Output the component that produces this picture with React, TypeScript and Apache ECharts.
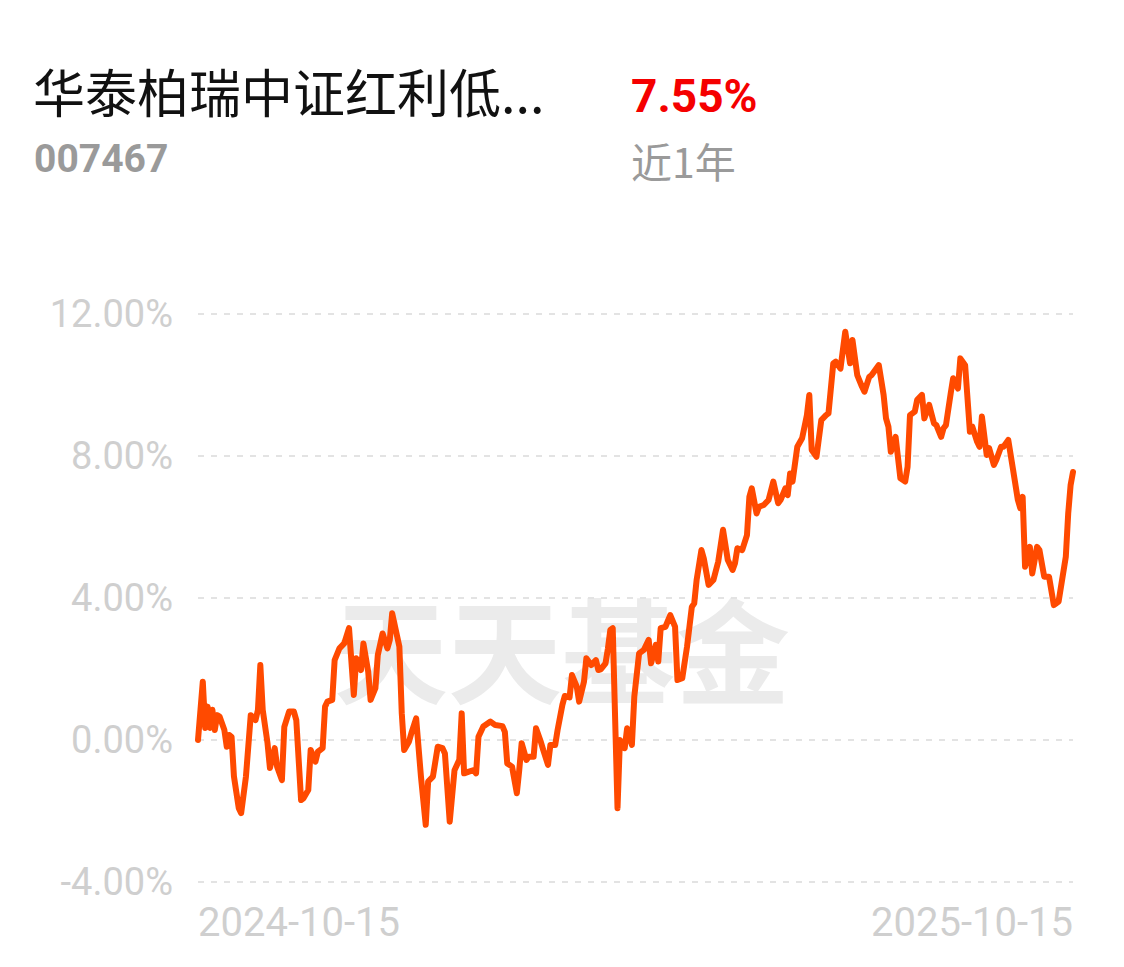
import React, { useEffect, useRef } from "react";
import * as echarts from "echarts";

const fundName = "华泰柏瑞中证红利低...";
const fundCode = "007467";
const periodReturn = "7.55%";
const periodLabel = "近1年";
const watermark = "天天基金";
const startDate = "2024-10-15";
const endDate = "2025-10-15";
const yTicks = [-4, 0, 4, 8, 12];

// day offsets from startDate
const tradeDays = [
  0, 2, 3, 4, 5, 6, 7, 8, 9, 11,
  12, 13, 14, 15, 17, 18, 20, 22, 24, 25,
  26, 27, 29, 30, 32, 33, 35, 36, 38, 40,
  41, 43, 44, 46, 47, 49, 50, 52, 53, 54,
  56, 57, 59, 61, 63, 65, 66, 68, 69, 71,
  72, 74, 75, 77, 79, 80, 81, 84, 85, 86,
  88, 89, 91, 93, 95, 96, 98, 100, 102, 103,
  105, 107, 109, 110, 111, 113, 115, 116, 117, 119,
  122, 124, 127, 128, 129, 131, 133, 134, 135, 137,
  138, 140, 141, 143, 144, 146, 147, 149, 150, 152,
  153, 155, 156, 158, 159, 161, 162, 164, 166, 167,
  168, 170, 171, 172, 173, 175, 176, 178, 179, 181,
  182, 184, 186, 188, 189, 191, 192, 193, 195, 197,
  199, 200, 202, 204, 206, 207, 208, 210, 211, 213,
  215, 217, 219, 221, 223, 224, 225, 227, 229, 230,
  231, 233, 234, 236, 238, 240, 242, 243, 245, 246,
  247, 248, 250, 252, 254, 255, 256, 258, 260, 262,
  263, 265, 266, 268, 270, 272, 273, 275, 277, 278,
  280, 281, 284, 286, 287, 288, 289, 291, 293, 295,
  296, 297, 299, 300, 302, 303, 305, 307, 308, 310,
  311, 312, 314, 315, 317, 318, 320, 322, 323, 325,
  326, 327, 329, 330, 332, 333, 335, 336, 338, 340,
  342, 343, 344, 345, 347, 348, 350, 351, 353, 355,
  357, 359, 362, 363, 364, 365,
];

// cumulative return, %
const returns = [
  0.0, 1.64, 0.34, 0.94, 0.34, 0.85, 0.28, 0.7, 0.66, 0.28,
  -0.19, 0.14, 0.09, -1.03, -1.92, -2.06, -1.03, 0.7, 0.56, 0.85,
  2.11, 0.85, -0.09, -0.79, -0.23, -0.75, -1.13, 0.37, 0.8, 0.8,
  0.56, -1.69, -1.64, -1.41, -0.28, -0.61, -0.33, -0.23, 0.94, 1.08,
  1.13, 2.25, 2.58, 2.72, 3.15, 1.27, 2.3, 1.97, 2.72, 1.92,
  1.13, 1.46, 2.39, 3.0, 2.58, 2.82, 3.57, 2.63, 0.75, -0.28,
  -0.05, 0.19, 0.61, -1.03, -2.39, -1.17, -1.03, -0.19, -0.23, -0.38,
  -2.3, -0.85, -0.56, 0.75, -0.94, -0.89, -0.85, -0.94, 0.09, 0.38,
  0.52, 0.42, 0.39, 0.23, -0.66, -0.75, -1.5, -0.85, -0.09, -0.56,
  -0.47, -0.47, 0.33, -0.05, -0.28, -0.7, -0.14, -0.14, 0.28, 0.99,
  1.24, 1.2, 1.83, 1.5, 1.08, 1.64, 2.3, 2.11, 2.25, 1.97,
  1.99, 2.16, 2.58, 3.1, 3.15, -1.92, 0.0, -0.23, 0.33, -0.14,
  1.22, 2.44, 2.54, 2.82, 2.16, 2.68, 2.21, 3.15, 3.19, 3.52,
  3.19, 1.69, 1.74, 2.63, 3.75, 3.85, 4.51, 5.35, 5.11, 4.37,
  4.51, 5.02, 5.92, 5.07, 4.79, 4.98, 5.4, 5.35, 5.77, 6.85,
  7.09, 6.38, 6.57, 6.62, 6.76, 7.28, 6.67, 6.76, 7.09, 6.9,
  7.51, 7.28, 8.26, 8.5, 9.15, 9.72, 8.17, 7.98, 9.01, 9.15,
  9.2, 10.61, 10.66, 10.46, 11.5, 10.61, 11.27, 10.28, 9.95, 9.81,
  10.23, 10.28, 10.56, 9.72, 9.06, 8.83, 8.12, 8.54, 7.37, 7.28,
  7.7, 9.15, 9.25, 9.58, 9.72, 9.06, 9.44, 8.92, 8.87, 8.54,
  8.78, 8.87, 9.77, 10.19, 9.9, 10.75, 10.56, 8.68, 8.83, 8.4,
  8.26, 9.11, 8.03, 8.22, 7.75, 7.89, 8.26, 8.26, 8.45, 7.61,
  6.76, 6.53, 6.85, 4.88, 5.44, 4.69, 5.44, 5.35, 4.6, 4.6,
  3.8, 3.9, 5.16, 6.38, 7.18, 7.55,
];

const spanDays = Math.round((Date.parse(endDate) - Date.parse(startDate)) / 86400000);

export default function App() {
  const ref = useRef<HTMLDivElement>(null);
  useEffect(() => {
    const chart = echarts.init(ref.current as HTMLDivElement, null, { renderer: "svg" });
    chart.setOption({
      animation: false,
      backgroundColor: "#ffffff",
      grid: { left: 198, right: 51, top: 314, bottom: 85, containLabel: false },
      xAxis: {
        type: "value",
        min: 0,
        max: spanDays,
        interval: spanDays,
        axisLine: { show: false },
        axisTick: { show: false },
        splitLine: { show: false },
        axisLabel: {
          formatter: (v: number) => (v === 0 ? startDate : v === spanDays ? endDate : ""),
          color: "#cfcfcf",
          fontSize: 40,
          fontFamily: "Roboto",
          margin: 20,
          alignMinLabel: "left",
          alignMaxLabel: "right",
        },
      },
      yAxis: {
        type: "value",
        min: yTicks[0],
        max: yTicks[yTicks.length - 1],
        interval: 4,
        axisLine: { show: false },
        axisTick: { show: false },
        axisLabel: {
          formatter: (v: number) => v.toFixed(2) + "%",
          color: "#cfcfcf",
          fontSize: 38,
          fontFamily: "Roboto",
          margin: 25,
        },
        splitLine: { lineStyle: { type: [6, 7], color: "#e3e3e3", width: 2 } },
      },
      graphic: [
        {
          type: "text",
          z: -1,
          x: 562,
          y: 645,
          style: {
            text: watermark,
            fill: "#ebebeb",
            fontSize: 114,
            fontWeight: "bold",
            fontFamily: "Noto Sans CJK SC",
            align: "center",
            verticalAlign: "middle",
          },
        },
        {
          type: "text",
          x: 33,
          y: 90,
          style: {
            text: fundName,
            fill: "#111111",
            fontSize: 52,
            fontFamily: "Noto Sans CJK SC",
            align: "left",
            verticalAlign: "middle",
          },
        },
        {
          type: "text",
          x: 34,
          y: 159,
          style: {
            text: fundCode,
            fill: "#9a9a9a",
            fontSize: 39,
            fontWeight: "bold",
            fontFamily: "Roboto",
            align: "left",
            verticalAlign: "middle",
          },
        },
        {
          type: "text",
          x: 631,
          y: 96,
          style: {
            text: periodReturn,
            fill: "#f50000",
            fontSize: 46,
            fontWeight: "bold",
            fontFamily: "Roboto",
            align: "left",
            verticalAlign: "middle",
          },
        },
        {
          type: "text",
          x: 631,
          y: 160,
          style: {
            text: periodLabel,
            fill: "#9a9a9a",
            fontSize: 41,
            fontFamily: "Noto Sans CJK SC",
            align: "left",
            verticalAlign: "middle",
          },
        },
      ],
      series: [
        {
          type: "line",
          data: tradeDays.map((d, i) => [d, returns[i]]),
          showSymbol: false,
          symbol: "none",
          z: 5,
          lineStyle: { color: "#ff4a00", width: 6, join: "round", cap: "round" },
        },
      ],
    });
    return () => chart.dispose();
  }, []);
  return (
    <div
      ref={ref}
      style={{ position: "fixed", left: 0, top: 0, width: 1124, height: 967, background: "#fff" }}
    />
  );
}
